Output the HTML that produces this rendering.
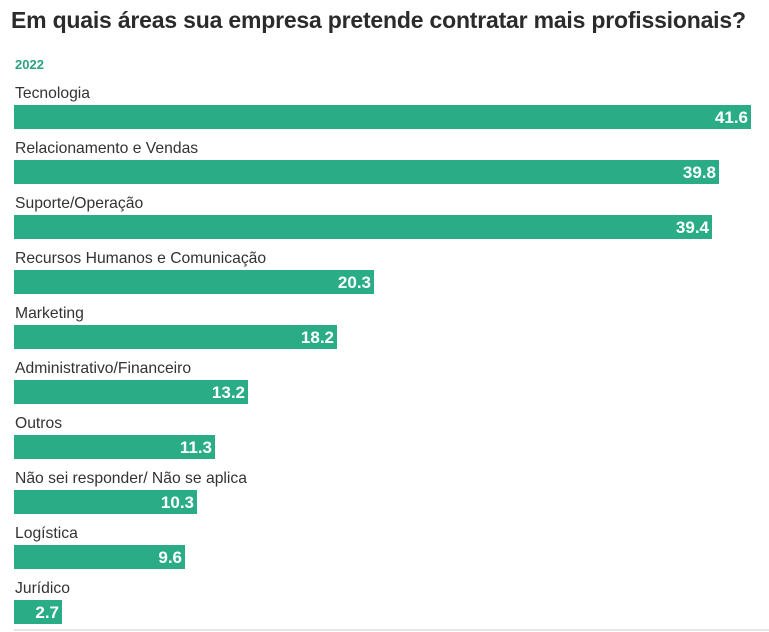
<!DOCTYPE html>
<html><head><meta charset="utf-8"><style>
body{margin:0;width:769px;height:632px;background:#fff;font-family:"Liberation Sans",sans-serif;position:relative;overflow:hidden}
.t{position:absolute;left:11px;top:7px;font-size:23px;font-weight:bold;color:#2b2b2b;white-space:nowrap;letter-spacing:-0.2px}
.y{position:absolute;left:15px;top:57px;font-size:13px;font-weight:bold;color:#2aa37f}
.l{position:absolute;left:15px;font-size:15.7px;color:#333;white-space:nowrap}
.b{position:absolute;left:14px;height:24px;background:#2aad86;color:#fff;font-weight:bold;font-size:17px;text-align:right;box-sizing:border-box;padding-right:3px;line-height:25px}
.ax{position:absolute;left:14px;top:629px;width:755px;height:2px;background:#e6e6e6}
</style></head><body>
<div class="t">Em quais áreas sua empresa pretende contratar mais profissionais?</div>
<div class="y">2022</div>
<div class="l" style="top:85px">Tecnologia</div><div class="b" style="top:105px;width:737px">41.6</div>
<div class="l" style="top:140px">Relacionamento e Vendas</div><div class="b" style="top:160px;width:705px">39.8</div>
<div class="l" style="top:195px">Suporte/Operação</div><div class="b" style="top:215px;width:698px">39.4</div>
<div class="l" style="top:250px">Recursos Humanos e Comunicação</div><div class="b" style="top:270px;width:360px">20.3</div>
<div class="l" style="top:305px">Marketing</div><div class="b" style="top:325px;width:323px">18.2</div>
<div class="l" style="top:360px">Administrativo/Financeiro</div><div class="b" style="top:380px;width:234px">13.2</div>
<div class="l" style="top:415px">Outros</div><div class="b" style="top:435px;width:201px">11.3</div>
<div class="l" style="top:470px">Não sei responder/ Não se aplica</div><div class="b" style="top:490px;width:183px">10.3</div>
<div class="l" style="top:525px">Logística</div><div class="b" style="top:545px;width:171px">9.6</div>
<div class="l" style="top:580px">Jurídico</div><div class="b" style="top:600px;width:48px">2.7</div>
<div class="ax"></div>
</body></html>
